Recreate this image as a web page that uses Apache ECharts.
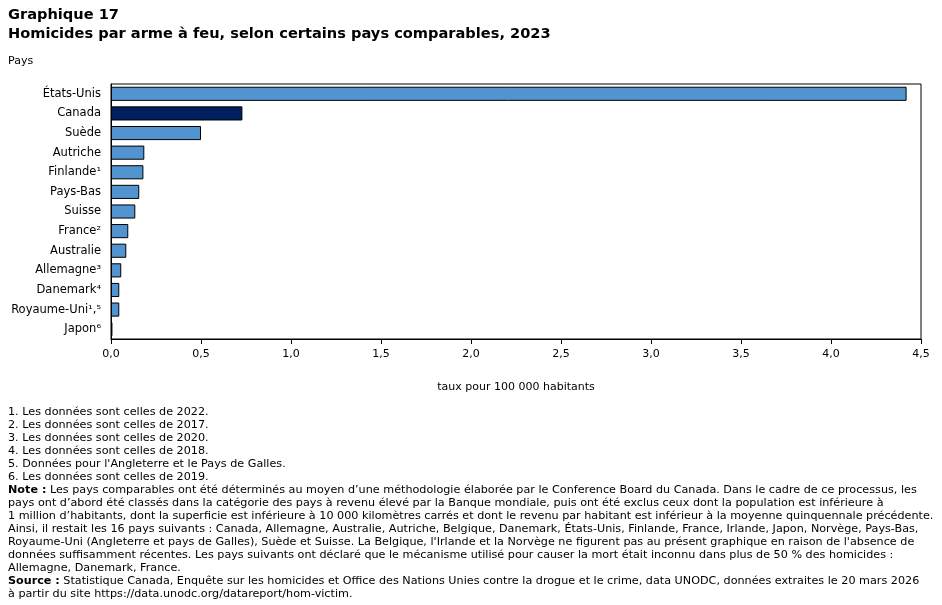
<!DOCTYPE html>
<html>
<head>
<meta charset="utf-8">
<script src="https://cdn.jsdelivr.net/npm/echarts@6/dist/echarts.min.js"></script>
<style>
  html, body { margin: 0; padding: 0; background: #fff; }
  #chart { width: 942px; height: 605px; }
</style>
</head>
<body>
<div id="chart"></div>
<script>
const countries = [
  "États-Unis", "Canada", "Suède", "Autriche", "Finlande¹", "Pays-Bas",
  "Suisse", "France²", "Australie", "Allemagne³", "Danemark⁴",
  "Royaume-Uni¹,⁵", "Japon⁶",
];
const rates = [4.42, 0.73, 0.50, 0.185, 0.18, 0.157, 0.135, 0.096, 0.085, 0.057, 0.046, 0.046, 0.008];
const highlight = "Canada";

const footnotes = [
  "1. Les données sont celles de 2022.",
  "2. Les données sont celles de 2017.",
  "3. Les données sont celles de 2020.",
  "4. Les données sont celles de 2018.",
  "5. Données pour l'Angleterre et le Pays de Galles.",
  "6. Les données sont celles de 2019.",
];
const noteLines = [
  "Les pays comparables ont été déterminés au moyen d’une méthodologie élaborée par le Conference Board du Canada. Dans le cadre de ce processus, les",
  "pays ont d’abord été classés dans la catégorie des pays à revenu élevé par la Banque mondiale, puis ont été exclus ceux dont la population est inférieure à",
  "1 million d’habitants, dont la superficie est inférieure à 10 000 kilomètres carrés et dont le revenu par habitant est inférieur à la moyenne quinquennale précédente.",
  "Ainsi, il restait les 16 pays suivants : Canada, Allemagne, Australie, Autriche, Belgique, Danemark, États-Unis, Finlande, France, Irlande, Japon, Norvège, Pays-Bas,",
  "Royaume-Uni (Angleterre et pays de Galles), Suède et Suisse. La Belgique, l'Irlande et la Norvège ne figurent pas au présent graphique en raison de l'absence de",
  "données suffisamment récentes. Les pays suivants ont déclaré que le mécanisme utilisé pour causer la mort était inconnu dans plus de 50 % des homicides :",
  "Allemagne, Danemark, France.",
];
const sourceLines = [
  "Statistique Canada, Enquête sur les homicides et Office des Nations Unies contre la drogue et le crime, data UNODC, données extraites le 20 mars 2026",
  "à partir du site https://data.unodc.org/datareport/hom-victim.",
];

const chart = echarts.init(document.getElementById("chart"), null, { renderer: "canvas" });

const FONT = "Verdana, 'DejaVu Sans', sans-serif";
const NOTE_FONT = "'DejaVu Sans', sans-serif";
const NOTE_SIZE = 11.2;
const LINE_H = 13;

// footnote text lines, one text element per line
const graphics = [];
let y = 407;
const addLine = (text, boldPrefix) => {
  graphics.push({
    type: "text", left: 8, top: y,
    style: {
      text: boldPrefix ? "{b|" + boldPrefix + "} " + text : text,
      font: NOTE_SIZE + "px " + NOTE_FONT, fill: "#000",
      rich: { b: { fontWeight: "bold", fontSize: NOTE_SIZE, fontFamily: NOTE_FONT } },
    },
  });
  y += LINE_H;
};
footnotes.forEach((line) => addLine(line));
noteLines.forEach((line, i) => addLine(line, i === 0 ? "Note :" : null));
sourceLines.forEach((line, i) => addLine(line, i === 0 ? "Source :" : null));

chart.setOption({
  animation: false,
  title: [
    {
      text: "Graphique 17\nHomicides par arme à feu, selon certains pays comparables, 2023",
      left: 8, top: 6, padding: 0,
      textStyle: { fontFamily: FONT, fontSize: 14.6, fontWeight: "bold", color: "#000", lineHeight: 19 },
    },
    {
      text: "Pays", left: 8, top: 56, padding: 0,
      textStyle: { fontFamily: FONT, fontSize: 11, fontWeight: "normal", color: "#000" },
    },
  ],
  grid: {
    left: 111, right: 21, top: 84, bottom: 266,
    show: true, borderColor: "#000", borderWidth: 1,
  },
  xAxis: {
    type: "value",
    min: 0, max: 4.5, interval: 0.5,
    name: "taux pour 100 000 habitants",
    nameLocation: "middle", nameGap: 43,
    nameTextStyle: { fontFamily: FONT, fontSize: 11, color: "#000" },
    axisLine: { show: true, lineStyle: { color: "#000" } },
    axisTick: { show: true, length: 5, lineStyle: { color: "#000" } },
    axisLabel: {
      fontFamily: FONT, fontSize: 11, color: "#000", margin: 10,
      formatter: (v) => v.toFixed(1).replace(".", ","),
    },
    splitLine: { show: false },
  },
  yAxis: {
    type: "category",
    data: countries,
    inverse: true,
    axisLine: { show: true, lineStyle: { color: "#000" } },
    axisTick: { show: false },
    axisLabel: { fontFamily: FONT, fontSize: 11.5, color: "#000", margin: 10 },
  },
  series: [
    {
      type: "bar",
      data: rates.map((v, i) => ({
        value: v,
        itemStyle: { color: countries[i] === highlight ? "#002060" : "#5294cf" },
      })),
      barWidth: "72%",
      itemStyle: { borderColor: "#000", borderWidth: 1 },
    },
  ],
  graphic: graphics,
});
</script>
</body>
</html>
